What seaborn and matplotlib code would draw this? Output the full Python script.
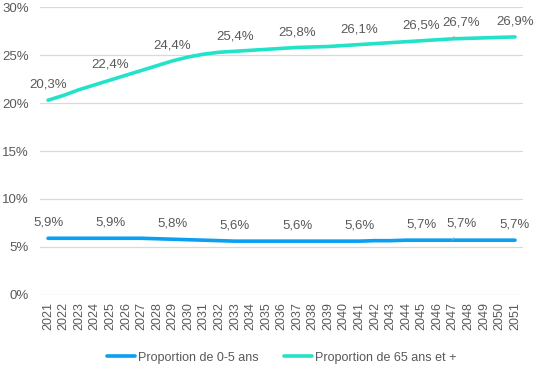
import numpy as np
import pandas as pd
import matplotlib
matplotlib.use('Agg')
from matplotlib import pyplot as plt
import seaborn as sns

# Data
years = list(range(2021, 2052))
share_0_5 = [5.9, 5.9, 5.9, 5.9, 5.9, 5.9, 5.9, 5.85, 5.8, 5.75,
             5.7, 5.65, 5.6, 5.6, 5.6, 5.6, 5.6, 5.6, 5.6, 5.6,
             5.6, 5.65, 5.65, 5.7, 5.7, 5.7, 5.7, 5.7, 5.7, 5.7, 5.7]
share_65 = [20.3, 20.8, 21.4, 21.9, 22.4, 22.9, 23.4, 23.9, 24.4, 24.8,
            25.1, 25.3, 25.4, 25.5, 25.6, 25.7, 25.8, 25.85, 25.9, 26.0,
            26.1, 26.2, 26.3, 26.4, 26.5, 26.6, 26.7, 26.75, 26.8, 26.85, 26.9]
label_years = [2021, 2025, 2029, 2033, 2037, 2041, 2045, 2047, 2051]
series_names = ['Proportion de 0-5 ans', 'Proportion de 65 ans et +']
colors = ['#0aa0f2', '#22e3c9']

df = pd.DataFrame({
    'year': years * 2,
    'value': share_0_5 + share_65,
    'serie': [series_names[0]] * len(years) + [series_names[1]] * len(years),
})

sns.set_style('white')
plt.rcParams['font.family'] = ['Liberation Sans', 'DejaVu Sans']
text_col = '#595959'

fig = plt.figure(figsize=(5.44, 3.78), dpi=100)
ax = fig.add_axes([0.074, 0.22, 0.887, 0.761])

sns.lineplot(data=df, x='year', y='value', hue='serie', palette=colors,
             linewidth=2.6, ax=ax, legend=True)

ax.set_ylim(0, 30)
ax.set_xlim(2020.5, 2051.5)
ax.set_yticks(np.arange(0, 31, 5))
ax.set_yticklabels([f'{v}%' for v in range(0, 31, 5)], fontsize=9.5, color=text_col)
ax.set_xticks(years)
ax.set_xticklabels([str(y) for y in years], rotation=90, fontsize=9, color=text_col)
ax.grid(axis='y', color='#d9d9d9', linewidth=0.9)
ax.set_axisbelow(True)
for side in ['top', 'right', 'left', 'bottom']:
    ax.spines[side].set_visible(False)
ax.tick_params(axis='y', length=0, pad=8)
ax.tick_params(axis='x', length=3, color='#d9d9d9', pad=2)
ax.set_xlabel('')
ax.set_ylabel('')

# Data labels
for vals in [share_0_5, share_65]:
    for yr in label_years:
        v = vals[years.index(yr)]
        txt = f'{v:.1f}%'.replace('.', ',')
        if yr == 2047:
            ax.annotate(txt, xy=(yr, v), xytext=(6, 12), textcoords='offset points',
                        ha='center', va='center', fontsize=9.5, color=text_col,
                        arrowprops=dict(arrowstyle='-', color='#a6a6a6', lw=0.8,
                                        shrinkA=4, shrinkB=0))
        else:
            ax.annotate(txt, xy=(yr, v), xytext=(0, 11), textcoords='offset points',
                        ha='center', va='center', fontsize=9.5, color=text_col)

ax.legend(loc='center', bbox_to_anchor=(0.5, -0.219), ncol=2, frameon=False,
          fontsize=9, labelcolor=text_col, handlelength=2.3, handletextpad=0.2,
          columnspacing=2.0)

fig.savefig('out.png', dpi=100)
